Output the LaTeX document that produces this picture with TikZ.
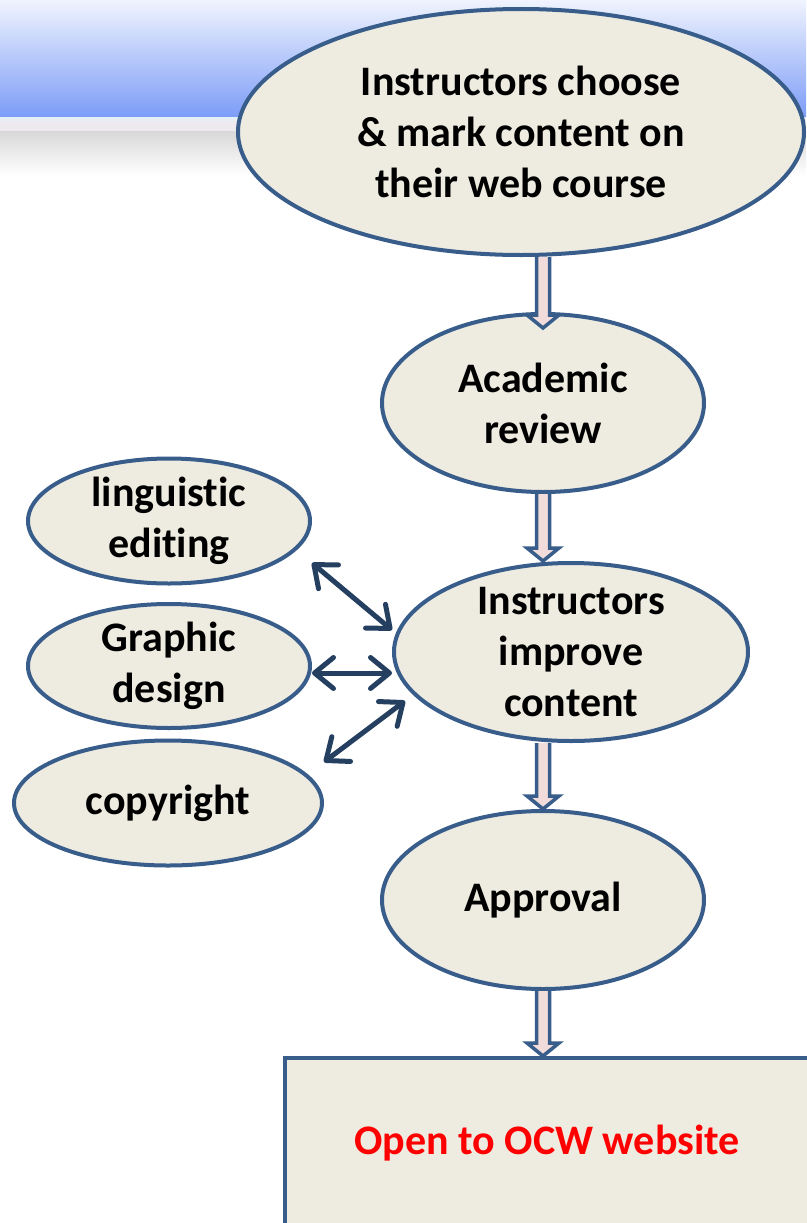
\documentclass[tikz,border=0pt]{standalone}
\usepackage{fontspec}
\setmainfont{Carlito}[Ligatures=NoCommon]
\usepackage{xcolor}
\usepackage{tikz}
\usetikzlibrary{arrows.meta,calc,positioning,shapes.geometric}
\definecolor{outline}{HTML}{385D8A}
\definecolor{navy}{HTML}{243F60}
\definecolor{shapefill}{HTML}{EEECE1}
\definecolor{arrowfill}{HTML}{F2DCDB}
\definecolor{bannertop}{HTML}{F0F4FE}
\definecolor{bannermid}{HTML}{C2D2FB}
\definecolor{bannerbot}{HTML}{7C9CF7}
\definecolor{stripeline}{HTML}{E6EEF6}
\definecolor{stripepink}{HTML}{EEE9EE}
\definecolor{stripegray}{HTML}{D8D8D8}
\tikzset{
  stage/.style={
    ellipse,
    draw=outline,
    line width=4pt,
    fill=shapefill,
    align=center,
    inner sep=-12pt,
    font=\fontsize{42}{51}\selectfont\bfseries
  },
  finalbox/.style={
    rectangle,
    draw=outline,
    line width=4pt,
    fill=shapefill,
    inner sep=0pt,
    text=red,
    font=\fontsize{42}{51}\selectfont\bfseries
  },
  twoway/.style={draw=navy, line width=5pt, line cap=round,
    {Straight Barb[length=19pt,width=31pt,line cap=round,line join=round]}-{Straight Barb[length=19pt,width=31pt,line cap=round,line join=round]}},
  flowarrow/.style={draw=outline, fill=arrowfill, line width=3.5pt, line join=miter}
}
\newcommand{\flowdown}[2]{%
  \draw[flowarrow] ($(#1)+(-6.5,0)$) -- ($(#2)+(-6.5,-13)$) -- ($(#2)+(-16,-13)$) -- (#2)
    -- ($(#2)+(16,-13)$) -- ($(#2)+(6.5,-13)$) -- ($(#1)+(6.5,0)$);
}

\begin{document}
\begin{tikzpicture}[x=1pt,y=-1pt]
\useasboundingbox (0,0) rectangle (806,1223);
\fill[white] (0,0) rectangle (806,1223);
\shade[top color=bannertop, middle color=bannermid, bottom color=bannerbot] (0,0) rectangle (806,117);
\fill[stripeline] (0,117) rectangle (806,121);
\fill[stripepink] (0,121) rectangle (806,131);
\shade[top color=stripegray, bottom color=white] (0,131) rectangle (806,176);

\node[stage, minimum width=566pt, minimum height=246pt] (choose) at (521,132) {Instructors choose\\\& mark content on\\their web course};
\node[stage, minimum width=322pt, minimum height=178pt] (review) at (543,403) {Academic\\review};
\node[stage, minimum width=354pt, minimum height=178pt] (improve) at (571,652) {Instructors\\improve\\content};
\node[stage, minimum width=322pt, minimum height=178pt] (approval) at (543,900) {Approval};

\node[stage, minimum width=282pt, minimum height=125pt] (editing) at (169,521) {linguistic\\editing};
\node[stage, minimum width=282pt, minimum height=124pt] (design) at (169,666) {Graphic\\design};
\node[stage, minimum width=308pt, minimum height=125pt] (copyright) at (168,803) {copyright};

\node[finalbox, minimum width=524pt, minimum height=170pt] (ocw) at (547,1143) {Open to OCW website};

\coordinate (s1) at (review.north |- choose.south);
\coordinate (t1) at ($(review.north)+(0,16)$);
\coordinate (t2) at (review.south |- improve.north);
\coordinate (s3) at (review.south |- improve.south);
\coordinate (t4) at (approval.south |- ocw.north);
\flowdown{s1}{t1}
\flowdown{review.south}{t2}
\flowdown{s3}{approval.north}
\flowdown{approval.south}{t4}

\draw[twoway] ($(editing.east)+(0,42)$) -- ($(improve.west)+(0,-22)$);
\draw[twoway] ($(design.east)+(0,7)$) -- ($(improve.west)+(0,21)$);
\draw[twoway] ($(copyright.east)+(0,-41)$) -- ($(improve.west)+(13,49)$);

\end{tikzpicture}
\end{document}
